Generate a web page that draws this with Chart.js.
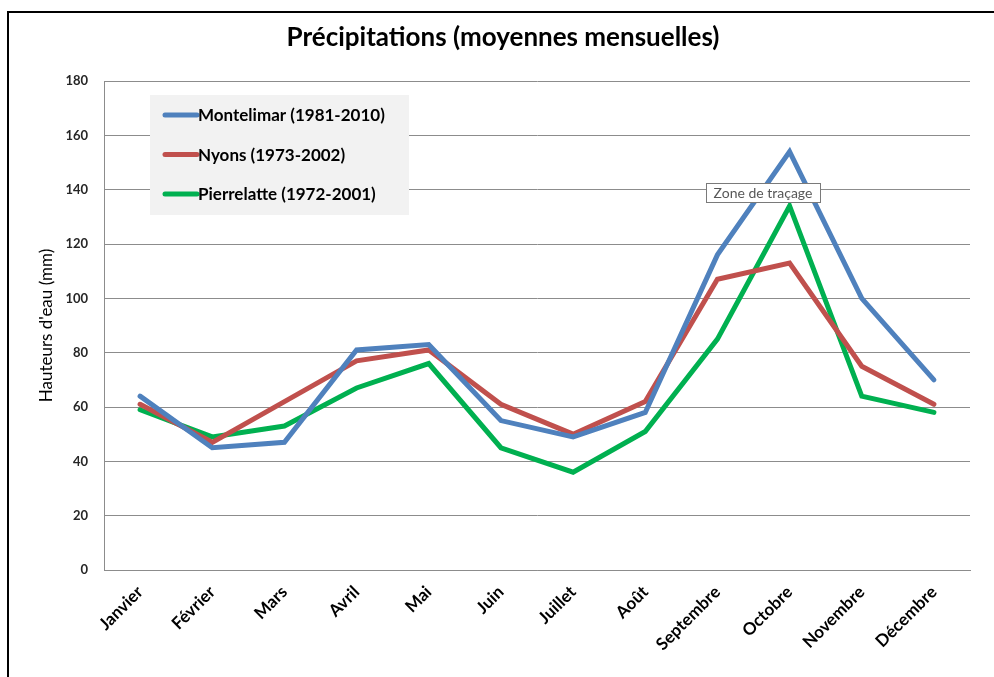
<!DOCTYPE html>
<html>
<head>
<meta charset="utf-8">
<script src="https://cdn.jsdelivr.net/npm/chart.js@4"></script>
<style>
  body { margin: 0; background: #fff; }
  #wrap { position: relative; width: 994px; height: 677px; overflow: hidden; }
  #cadre { position: absolute; left: 7px; top: 11px; width: 1010px; height: 700px; border: 2px solid #000; }
  canvas { position: absolute; left: 0; top: 0; }
</style>
</head>
<body>
<div id="wrap">
  <div id="cadre"></div>
  <canvas id="myChart" width="994" height="677"></canvas>
</div>
<script>
// mois
var mois = ["Janvier", "Février", "Mars", "Avril", "Mai", "Juin", "Juillet", "Août", "Septembre", "Octobre", "Novembre", "Décembre"];

// series (mm)
var montelimar = [64, 45, 47, 81, 83, 55, 49, 58, 116, 154, 100, 70];
var nyons = [61, 47, 62, 77, 81, 61, 50, 62, 107, 113, 75, 61];
var pierrelatte = [59, 49, 53, 67, 76, 45, 36, 51, 85, 134, 64, 58];

var yTicks = [0, 20, 40, 60, 80, 100, 120, 140, 160, 180];

var police = "Lato, 'Open Sans', sans-serif";

// legende dans la zone de tracage + bulle "Zone de traçage"
var legendeInterne = {
  id: 'legendeInterne',
  afterDraw: function(chart) {
    var c = chart.ctx;
    c.save();
    c.fillStyle = '#f2f2f2';
    c.fillRect(150, 95, 259, 120);
    c.font = 'bold 17px ' + police;
    c.textBaseline = 'middle';
    chart.data.datasets.forEach(function(ds, i) {
      var y = 115 + i * 39.5;
      c.strokeStyle = ds.borderColor;
      c.lineWidth = 5;
      c.lineCap = 'round';
      c.beginPath();
      c.moveTo(165, y);
      c.lineTo(197, y);
      c.stroke();
      c.fillStyle = '#000';
      c.fillText(ds.label, 198, y + 1);
    });

    // bulle
    c.fillStyle = '#fff';
    c.fillRect(706, 183, 114, 19);
    c.strokeStyle = '#7a7a7a';
    c.lineWidth = 1;
    c.strokeRect(706.5, 183.5, 114, 19);
    c.fillStyle = '#575757';
    c.font = '14px ' + police;
    c.textAlign = 'center';
    c.fillText('Zone de traçage', 763, 193);
    c.restore();
  }
};

var ctx = document.getElementById("myChart").getContext('2d');
var myChart = new Chart(ctx, {
  type: 'line',
  data: {
    labels: mois,
    datasets: [{
      label: "Montelimar (1981-2010)",
      data: montelimar,
      borderColor: "#4f81bd",
      backgroundColor: "#4f81bd"
    }, {
      label: "Nyons (1973-2002)",
      data: nyons,
      borderColor: "#c0504d",
      backgroundColor: "#c0504d"
    }, {
      label: "Pierrelatte (1972-2001)",
      data: pierrelatte,
      borderColor: "#00b050",
      backgroundColor: "#00b050"
    }]
  },
  options: {
    responsive: false,
    animation: false,
    events: [],
    elements: {
      line: { borderWidth: 5, tension: 0, borderCapStyle: 'round', borderJoinStyle: 'miter' },
      point: { radius: 0 }
    },
    layout: {
      autoPadding: false,
      padding: { left: 36, right: 24, top: 0, bottom: 0 }
    },
    plugins: {
      legend: { display: false },
      tooltip: { enabled: false },
      title: {
        display: true,
        text: "Précipitations (moyennes mensuelles)",
        color: '#000',
        font: { family: police, size: 26, weight: 'bold', lineHeight: 1.2 },
        padding: { top: 22, bottom: 27.8 }
      }
    },
    scales: {
      x: {
        offset: true,
        grid: { display: false, drawTicks: false },
        border: { display: true, color: '#8c8c8c', width: 1 },
        ticks: {
          color: '#000',
          font: { family: police, size: 17, weight: 'bold' },
          maxRotation: 45,
          minRotation: 45,
          padding: 12,
          labelOffset: 0,
          autoSkip: false
        },
        afterFit: function(scale) { scale.height = 107; }
      },
      y: {
        min: 0,
        max: 180,
        afterBuildTicks: function(scale) {
          scale.ticks = yTicks.map(function(v) { return { value: v }; });
        },
        grid: { color: '#8c8c8c', lineWidth: 1, drawTicks: false },
        border: { display: true, color: '#8c8c8c', width: 1 },
        ticks: {
          color: '#262626',
          font: { family: police, size: 13, weight: 'bold' },
          padding: 16
        },
        title: {
          display: true,
          text: "Hauteurs d'eau (mm)",
          color: '#000',
          font: { family: police, size: 17 },
          padding: 0
        },
        afterFit: function(scale) { scale.width = 68; }
      }
    }
  },
  plugins: [legendeInterne]
});
</script>
</body>
</html>
